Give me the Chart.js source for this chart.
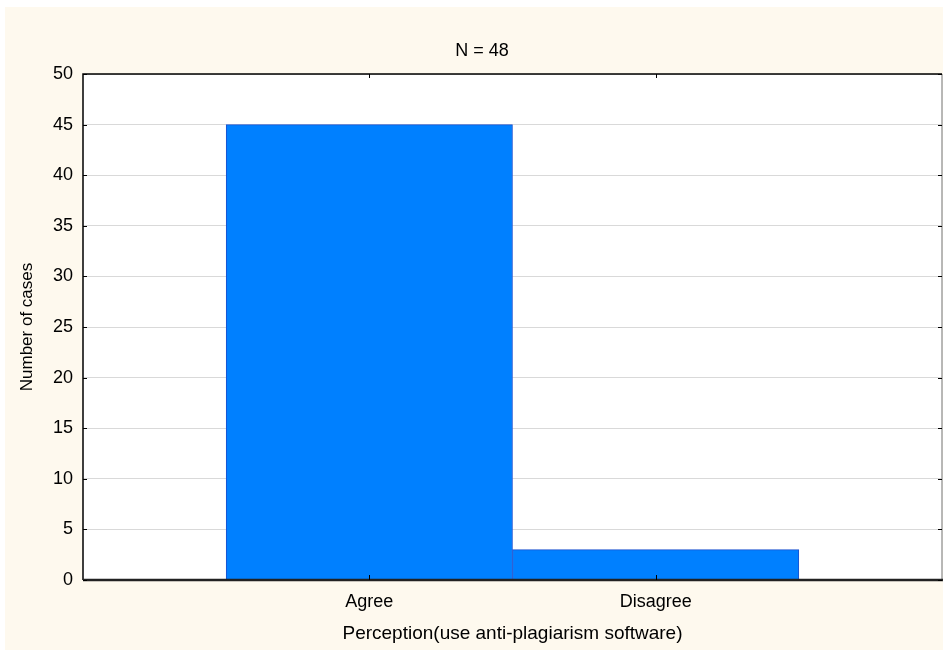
<!DOCTYPE html>
<html>
<head>
<meta charset="utf-8">
<script src="https://cdn.jsdelivr.net/npm/chart.js@4/dist/chart.umd.min.js"></script>
<style>
  html, body { margin: 0; padding: 0; background: #ffffff; }
  #wrap { position: absolute; left: 5px; top: 7px; width: 938px; height: 643px; background: #fef9ee; }
  canvas { display: block; }
</style>
</head>
<body>
<div id="wrap"><canvas id="c" width="938" height="643"></canvas></div>
<script>
const chartTitle = 'N = 48';
const categories = ['Agree', 'Disagree'];
const caseCounts = [45, 3];
const yTicks = [0, 5, 10, 15, 20, 25, 30, 35, 40, 45, 50];
const xAxisTitle = 'Perception(use anti-plagiarism software)';
const yAxisTitle = 'Number of cases';

// pad the category axis with one empty slot on each side
const labels = [''].concat(categories, ['']);
const values = [null].concat(caseCounts, [null]);

const FONT = "'Liberation Sans', Arial, sans-serif";

const framePlugin = {
  id: 'frame',
  beforeDraw(chart) {
    const { ctx, chartArea: a } = chart;
    ctx.save();
    ctx.fillStyle = '#ffffff';
    ctx.fillRect(a.left, a.top, a.right - a.left, a.bottom - a.top);
    ctx.restore();
  },
  afterDatasetsDraw(chart) {
    const { ctx, chartArea: a, scales } = chart;
    ctx.save();
    // right border (grey)
    ctx.strokeStyle = '#a0a0a0';
    ctx.lineWidth = 1.5;
    ctx.beginPath();
    ctx.moveTo(a.right, a.top); ctx.lineTo(a.right, a.bottom);
    ctx.stroke();
    // top and left border
    ctx.strokeStyle = '#000000';
    ctx.lineWidth = 1.5;
    ctx.beginPath();
    ctx.moveTo(a.left, a.bottom); ctx.lineTo(a.left, a.top); ctx.lineTo(a.right, a.top);
    ctx.stroke();
    // bottom border
    ctx.strokeStyle = '#222222';
    ctx.lineWidth = 2.5;
    ctx.beginPath();
    ctx.moveTo(a.left, a.bottom); ctx.lineTo(a.right + 1, a.bottom);
    ctx.stroke();
    // inward tick marks
    ctx.strokeStyle = '#000000';
    ctx.lineWidth = 1;
    ctx.beginPath();
    yTicks.forEach(v => {
      const y = Math.round(scales.y.getPixelForValue(v)) + 0.5;
      ctx.moveTo(a.left, y); ctx.lineTo(a.left + 4, y);
      ctx.moveTo(a.right, y); ctx.lineTo(a.right - 4, y);
    });
    categories.forEach((c, i) => {
      const x = Math.round(scales.x.getPixelForValue(i + 1)) + 0.5;
      ctx.moveTo(x, a.top); ctx.lineTo(x, a.top + 4);
      ctx.moveTo(x, a.bottom); ctx.lineTo(x, a.bottom - 5);
    });
    ctx.stroke();
    ctx.restore();
  },
  afterDraw(chart) {
    const { ctx } = chart;
    ctx.save();
    ctx.fillStyle = '#000000';
    ctx.font = '18px ' + FONT;
    ctx.textAlign = 'center';
    ctx.textBaseline = 'middle';
    ctx.fillText(chartTitle, 477, 44.5);
    ctx.restore();
  }
};

new Chart(document.getElementById('c'), {
  type: 'bar',
  data: {
    labels: labels,
    datasets: [{
      data: values,
      backgroundColor: '#0080ff',
      borderColor: '#1a50d0',
      borderWidth: 1,
      barPercentage: 1,
      categoryPercentage: 1
    }]
  },
  options: {
    responsive: false,
    animation: false,
    devicePixelRatio: 1,
    layout: { padding: { left: 0, right: 1, top: 67, bottom: 0 } },
    plugins: {
      legend: { display: false },
      tooltip: { enabled: false },
      title: { display: false }
    },
    scales: {
      x: {
        type: 'category',
        offset: false,
        grid: { display: false, drawTicks: false },
        border: { display: false },
        ticks: {
          color: '#000000',
          font: { family: FONT, size: 18 },
          padding: 11,
          autoSkip: false,
          maxRotation: 0
        },
        title: {
          display: true,
          text: xAxisTitle,
          color: '#000000',
          font: { family: FONT, size: 19 },
          padding: { top: 0, bottom: 5 }
        },
        afterFit(scale) { scale.height = 70; scale.paddingLeft = 0; scale.paddingRight = 0; }
      },
      y: {
        min: 0,
        max: 50,
        afterBuildTicks(scale) { scale.ticks = yTicks.map(v => ({ value: v })); },
        grid: { color: '#d9d9d9', lineWidth: 1, drawTicks: false },
        border: { display: false },
        ticks: {
          color: '#000000',
          font: { family: FONT, size: 18 },
          padding: 10
        },
        title: {
          display: true,
          text: yAxisTitle,
          color: '#000000',
          font: { family: FONT, size: 17 },
          padding: { top: 12, bottom: 0 }
        },
        afterFit(scale) { scale.width = 78; }
      }
    }
  },
  plugins: [framePlugin]
});
</script>
</body>
</html>
